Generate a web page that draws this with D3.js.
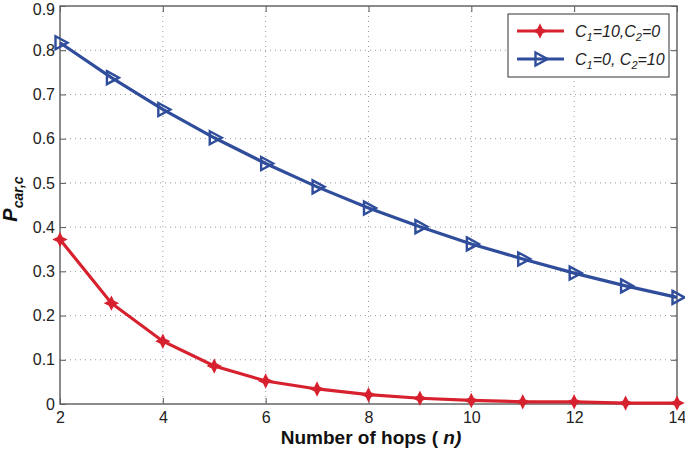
<!DOCTYPE html>
<html><head><meta charset="utf-8">
<script src="https://cdn.jsdelivr.net/npm/d3@7"></script>
<style>body{margin:0;background:#fff}svg{display:block}</style>
</head><body>
<svg id="c" width="685" height="449"></svg>
<script>
const hops = [2,3,4,5,6,7,8,9,10,11,12,13,14];
const redVals = [0.372,0.228,0.142,0.086,0.052,0.034,0.021,0.013,0.008,0.005,0.005,0.002,0.002];
const blueVals = [0.817,0.738,0.666,0.602,0.544,0.491,0.443,0.401,0.362,0.328,0.296,0.267,0.241];
const xTicks = [2,4,6,8,10,12,14];
const yTicks = [0,0.1,0.2,0.3,0.4,0.5,0.6,0.7,0.8,0.9];

const svg = d3.select("#c");
const L=60,R=677,T=6,B=404;
const x = d3.scaleLinear().domain([2,14]).range([L,R]);
const y = d3.scaleLinear().domain([0,0.9]).range([B,T]);
const font = "Liberation Sans, Arial, sans-serif";
const g = svg.append("g");

// grid
g.selectAll(".gx").data(xTicks.slice(1,-1)).enter().append("line")
 .attr("x1",d=>x(d)).attr("x2",d=>x(d)).attr("y1",T).attr("y2",B)
 .attr("stroke","#999").attr("stroke-width",1).attr("stroke-dasharray","1,4");
g.selectAll(".gy").data(yTicks.slice(1,-1)).enter().append("line")
 .attr("y1",d=>y(d)).attr("y2",d=>y(d)).attr("x1",L).attr("x2",R)
 .attr("stroke","#999").attr("stroke-width",1).attr("stroke-dasharray","1,4");

// axes
const ax = d3.axisBottom(x).tickValues(xTicks).tickSize(-6).tickPadding(8).tickFormat(d3.format("d"));
const ay = d3.axisLeft(y).tickValues(yTicks).tickSize(-6).tickPadding(5).tickFormat(d=>d===0?"0":d3.format(".1f")(d));
const axT = d3.axisTop(x).tickValues(xTicks).tickSize(-6).tickFormat("");
const ayR = d3.axisRight(y).tickValues(yTicks).tickSize(-6).tickFormat("");
function style(sel){
  sel.select(".domain").remove();
  sel.selectAll("line").attr("stroke","#555");
  sel.selectAll("text").attr("font-family",font).attr("font-size",16).attr("fill","#222");
}
g.append("g").attr("transform",`translate(0,${B})`).call(ax).call(style);
const gy = g.append("g").attr("transform",`translate(${L},0)`).call(ay).call(style);
gy.selectAll(".tick text").filter(d=>d===0.9).attr("dy","0.55em");
g.append("g").attr("transform",`translate(0,${T})`).call(axT).call(style);
g.append("g").attr("transform",`translate(${R},0)`).call(ayR).call(style);
g.append("rect").attr("x",L).attr("y",T).attr("width",R-L).attr("height",B-T)
 .attr("fill","none").attr("stroke","#666").attr("stroke-width",1.5);

const red="#d7212f", blue="#2f4d9b";
const line = d3.line().x((d,i)=>x(hops[i])).y(d=>y(d));
const tri = "M-4.5,-6.5 L7.5,0 L-4.5,6.5 Z";
const dia = "M0,-6 L3,0 L0,6 L-3,0 Z M-6,0 L0,-3 L6,0 L0,3 Z";

g.append("path").datum(redVals).attr("d",line).attr("fill","none").attr("stroke",red).attr("stroke-width",3.2);
g.selectAll(".mr").data(redVals).enter().append("path")
 .attr("transform",(d,i)=>`translate(${x(hops[i])},${y(d)})`).attr("d",dia)
 .attr("fill",red).attr("stroke",red).attr("stroke-width",1.5);
g.append("path").datum(blueVals).attr("d",line).attr("fill","none").attr("stroke",blue).attr("stroke-width",3.2);
g.selectAll(".mb").data(blueVals).enter().append("path")
 .attr("transform",(d,i)=>`translate(${x(hops[i])},${y(d)})`).attr("d",tri)
 .attr("fill","none").attr("stroke",blue).attr("stroke-width",2.4);

// legend
const lg = svg.append("g");
lg.append("rect").attr("x",508).attr("y",14).attr("width",161).attr("height",63)
 .attr("fill","#fff").attr("stroke","#333").attr("stroke-width",1);
lg.append("line").attr("x1",517).attr("x2",564).attr("y1",31).attr("y2",31).attr("stroke",red).attr("stroke-width",3.2);
lg.append("path").attr("transform","translate(540,31)").attr("d",dia).attr("fill",red).attr("stroke",red).attr("stroke-width",1.5);
lg.append("line").attr("x1",517).attr("x2",564).attr("y1",59).attr("y2",59).attr("stroke",blue).attr("stroke-width",3.2);
lg.append("path").attr("transform","translate(540,59)").attr("d",tri).attr("fill","none").attr("stroke",blue).attr("stroke-width",2.4);
function legText(yy, parts){
  const t = lg.append("text").attr("x",575).attr("y",yy).attr("font-family",font).attr("font-size",16)
    .attr("font-style","italic").attr("fill","#222");
  parts.forEach(p=>{
    const s=t.append("tspan").text(p[0]);
    if(p[1]) s.attr("font-size",11).attr("dy",4);
    if(p[2]) s.attr("dy",-4);
  });
}
legText(37,[["C"],["1",1],["=10,C",0,1],["2",1],["=0",0,1]]);
legText(65,[["C"],["1",1],["=0, C",0,1],["2",1],["=10",0,1]]);

// axis labels
const xl = svg.append("text").attr("x",371).attr("y",444).attr("text-anchor","middle")
 .attr("font-family","Liberation Sans Narrow, Arial Narrow, "+font).attr("font-weight","bold").attr("font-size",19).attr("fill","#111");
xl.append("tspan").text("Number of hops ( ");
xl.append("tspan").attr("font-style","italic").text("n)");
const yl = svg.append("text").attr("transform","translate(17,199) rotate(-90)").attr("text-anchor","middle")
 .attr("font-family",font).attr("font-weight","bold").attr("font-style","italic").attr("font-size",20).attr("fill","#111");
yl.append("tspan").text("P");
yl.append("tspan").attr("font-size",14).attr("dy",6).text("car,c");
</script>
</body></html>
